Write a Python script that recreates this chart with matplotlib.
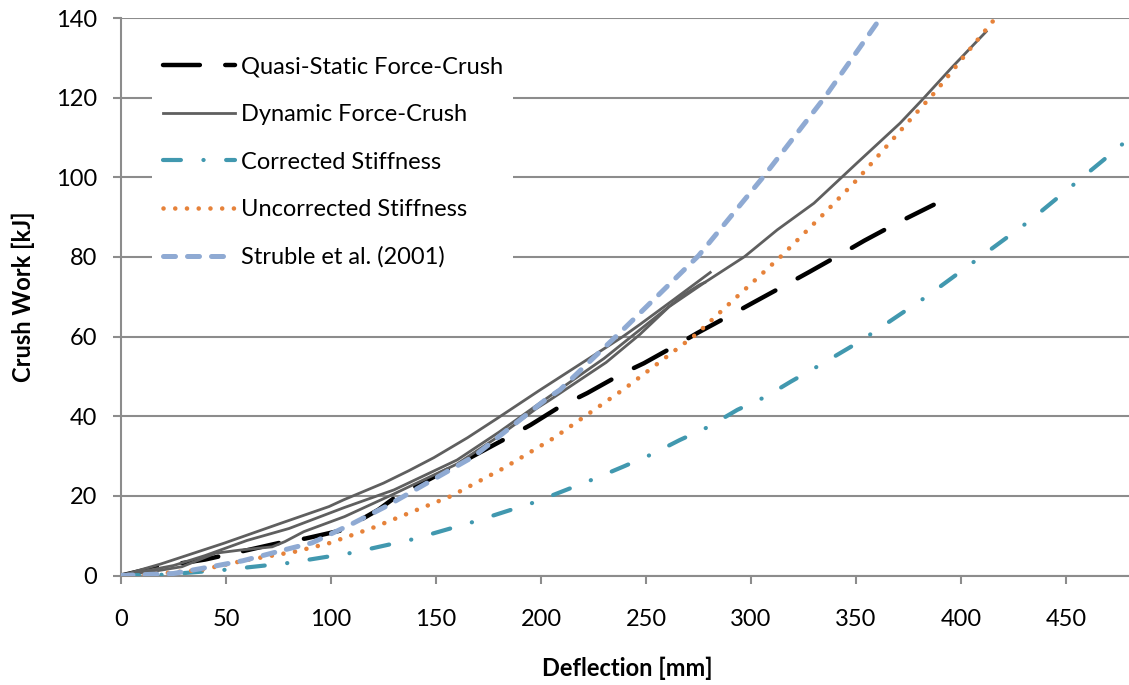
import matplotlib
matplotlib.use("Agg")
import matplotlib.pyplot as plt

# ---------------- data ----------------
quasi_x = [0, 18, 40, 59.6, 78, 88, 105.5, 122.5, 131, 160, 185, 195, 209, 222, 239, 249, 266, 274.5, 292, 302, 318, 328, 344.5, 354, 371, 387]
quasi_y = [0, 2.2, 4, 6.3, 8.5, 9.3, 11.4, 16.5, 19.8, 27.8, 34.9, 37.8, 42.4, 45.8, 50.8, 53.3, 58.3, 60.9, 65.9, 68.8, 73.4, 76.3, 81.2, 84.1, 88.9, 93.1]

dyn1_x = [0, 19, 49, 76, 99, 106, 125, 137, 149, 165, 179, 199, 209, 239, 247, 263, 280.6]
dyn1_y = [0, 2.9, 8.1, 13.1, 17.3, 19.0, 23.2, 26.3, 29.6, 34.6, 39.4, 46.4, 49.8, 60, 63, 69.2, 76.1]

dyn2_x = [0, 15, 29, 45, 57, 72, 78, 87, 106.5, 130, 160, 180, 198, 204, 231, 247, 261, 278, 297, 312.5, 330, 350.5, 371, 381.6, 395.5, 412]
dyn2_y = [0, 1.0, 2.2, 5.6, 6.4, 7.2, 8.5, 11, 14.8, 20.5, 28, 35, 42, 44, 53.5, 60.5, 67.5, 73.6, 80.1, 86.8, 93.5, 103.6, 113.6, 119.5, 127.5, 136.6]

dyn3_x = [0, 25, 40, 60, 80, 106, 130, 160, 180, 200, 230, 253, 268, 275.5, 278]
dyn3_y = [0, 2.5, 5.0, 8.8, 11.8, 17.0, 21.5, 29.0, 36.0, 43.5, 54.5, 64.2, 70.5, 73.0, 73.6]

corr_x = [0, 20, 49, 79, 110, 139, 168, 197, 212, 225, 239, 253, 266, 280, 293.5, 307, 319, 333, 350, 359, 384, 408, 433, 456, 468, 482]
corr_y = [0, 0.2, 1.4, 3.1, 5.7, 9.1, 13.5, 18.4, 21.5, 24.2, 27.3, 30.5, 34, 37.4, 41.6, 44.9, 48.7, 52.9, 58.2, 61.3, 70.2, 79.5, 89.2, 99.2, 104.4, 110.6]

uncorr_x = [0, 10, 38, 60, 83, 99, 120, 141, 157, 182, 206, 240, 274, 290, 315, 335, 350.5, 373, 388, 406, 418]
uncorr_y = [0, 0.1, 1.4, 3.9, 6, 8.1, 12, 16.5, 19.9, 26.9, 34.5, 47, 60.6, 68.4, 80.5, 91, 99.4, 112.8, 121.6, 133.3, 141]

struble_x = [0, 25, 45, 58, 79, 91, 109, 126, 168, 203, 209, 239, 275, 306, 335, 363]
struble_y = [0, 0.5, 2.4, 3.7, 6.6, 8.2, 12.7, 17.3, 29.9, 44.5, 46.6, 61.7, 80.3, 100.2, 120, 141]

labels = ["Quasi-Static Force-Crush", "Dynamic Force-Crush", "Corrected Stiffness",
          "Uncorrected Stiffness", "Struble et al. (2001)"]
x_ticks = [0, 50, 100, 150, 200, 250, 300, 350, 400, 450]
y_ticks = [0, 20, 40, 60, 80, 100, 120, 140]

# ---------------- style ----------------
plt.rcParams['font.family'] = ['Lato', 'DejaVu Sans']
GRID = '#8c8c8c'
C_BLACK = '#000000'
C_GRAY = '#5f5f5f'
C_TEAL = '#4198AF'
C_ORANGE = '#E6823A'
C_BLUE = '#8FAAD3'
FS = 17

fig = plt.figure(figsize=(11.29, 6.85), dpi=100)
ax = fig.add_axes([121/1129, 1 - 575.5/685, 1 - 121/1129, (575.5 - 18)/685])

lq, = ax.plot(quasi_x, quasi_y, color=C_BLACK, lw=3.2, dash_capstyle='round',
              solid_capstyle='round', zorder=3)
lq.set_dashes([8.3, 5.7])
ld, = ax.plot(dyn1_x, dyn1_y, color=C_GRAY, lw=2.0, zorder=4)
ax.plot(dyn2_x, dyn2_y, color=C_GRAY, lw=2.0, zorder=4)
ax.plot(dyn3_x, dyn3_y, color=C_GRAY, lw=2.0, zorder=4)
lc, = ax.plot(corr_x, corr_y, color=C_TEAL, lw=3.0, dash_capstyle='round', zorder=5)
lc.set_dashes([4.3, 5.4, 0.05, 5.4])
lu, = ax.plot(uncorr_x, uncorr_y, color=C_ORANGE, lw=3.3, dash_capstyle='round', zorder=5)
lu.set_dashes([0.01, 2.55])
ls, = ax.plot(struble_x, struble_y, color=C_BLUE, lw=3.6, dash_capstyle='round', zorder=6)
ls.set_dashes([2.4, 2.4])

ax.set_xlim(0, 480)
ax.set_ylim(0, 140)
ax.set_xticks(x_ticks)
ax.set_yticks(y_ticks)
ax.yaxis.grid(True, color=GRID, lw=1.5)
ax.set_axisbelow(True)
for s in ['top', 'right']:
    ax.spines[s].set_visible(False)
for s in ['left', 'bottom']:
    ax.spines[s].set_color(GRID)
    ax.spines[s].set_linewidth(1.5)
ax.tick_params(axis='x', direction='out', length=6, width=1.5, color=GRID,
               labelsize=FS, pad=18)
ax.tick_params(axis='y', direction='out', length=6, width=1.5, color=GRID,
               labelsize=FS, pad=11)

ax.set_xlabel("Deflection [mm]", fontsize=FS, fontweight='bold', va='center')
ax.xaxis.set_label_coords(0.502, -0.166)
ax.set_ylabel("Crush Work [kJ]", fontsize=FS, fontweight='bold', va='center')
ax.yaxis.set_label_coords(-0.097, 0.5)

leg = ax.legend([lq, ld, lc, lu, ls], labels, loc='upper left',
                bbox_to_anchor=(152/1129, 1 - 46/685), bbox_transform=fig.transFigure,
                fontsize=FS, frameon=True, fancybox=False, framealpha=1,
                edgecolor='none', facecolor='white', handlelength=3.05,
                handletextpad=0.25, labelspacing=1.12, borderpad=0.45,
                borderaxespad=0)
leg.set_zorder(10)

fig.savefig("out.png", dpi=100)
